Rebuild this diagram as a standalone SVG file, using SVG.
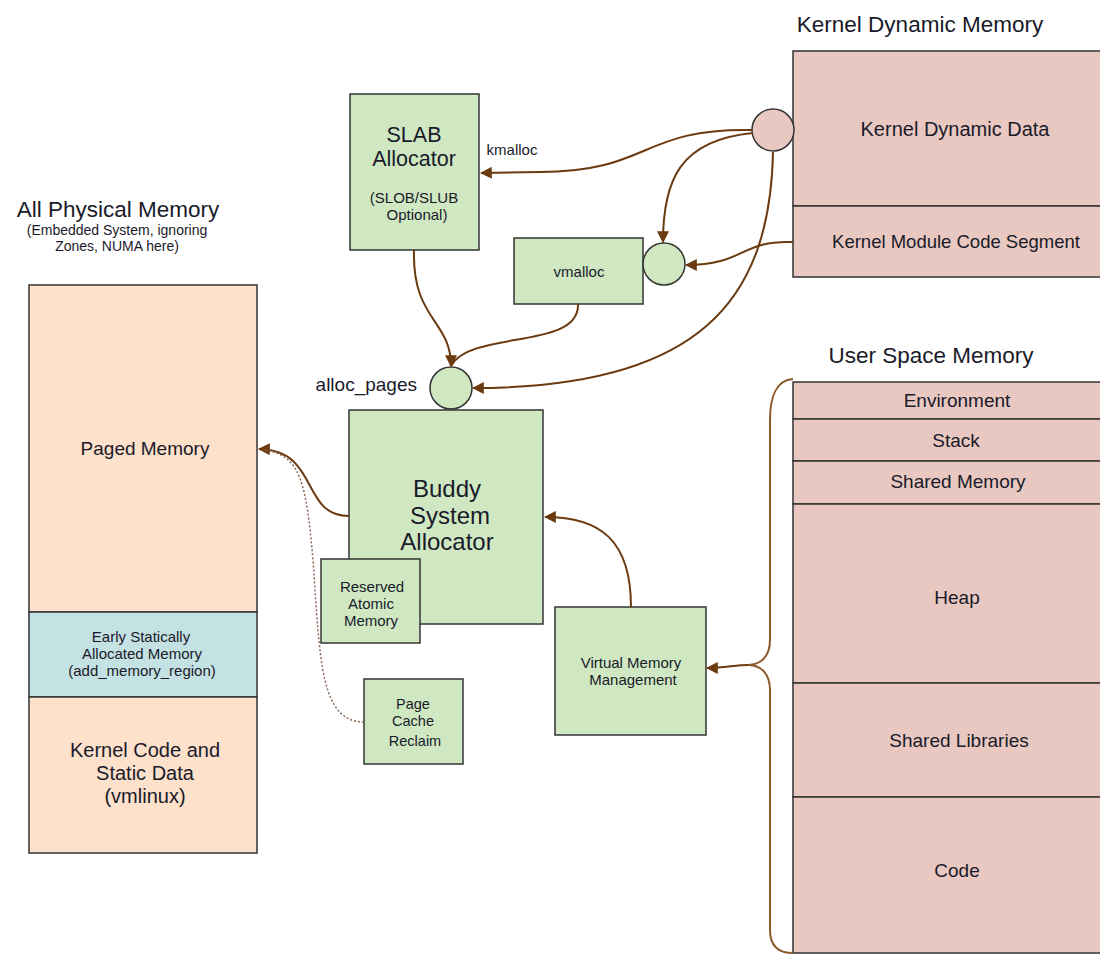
<svg xmlns="http://www.w3.org/2000/svg" width="1100" height="955" viewBox="0 0 1100 955">
<style>
text{font-family:"Liberation Sans",Arial,sans-serif;fill:#1a1a2a;text-anchor:middle}
.box{stroke:#333;stroke-width:1.5}
.g{fill:#cfe8c2}
.p{fill:#e8c8c0}
.pe{fill:#fde1cb}
.bl{fill:#c4e2e3}
.c{fill:none;stroke:#6b3a10;stroke-width:2}
.t22{font-size:22.5px}
.t19{font-size:19px}
.t15{font-size:15px}
.t14{font-size:14.5px}
</style>
<defs>
<marker id="ah" viewBox="0 0 10 10" refX="9" refY="5" markerWidth="12" markerHeight="12" markerUnits="userSpaceOnUse" orient="auto">
<path d="M0,0 L10,5 L0,10 z" fill="#6b3a10"/>
</marker>
</defs>
<rect width="1100" height="955" fill="#fff"/>

<g id="physical">
<text x="118" y="217" class="t22">All Physical Memory</text>
<text x="117" y="235" style="font-size:14px">(Embedded System, ignoring</text>
<text x="117" y="251" style="font-size:14px">Zones, NUMA here)</text>
<rect x="29" y="285" width="228" height="327" class="box pe"/>
<text x="145" y="455" class="t19">Paged Memory</text>
<rect x="29" y="612" width="228" height="85" class="box bl"/>
<text x="141" y="642" class="t15">Early Statically</text>
<text x="142" y="659" class="t15">Allocated Memory</text>
<text x="142" y="676" class="t15">(add_memory_region)</text>
<rect x="29" y="697" width="228" height="156" class="box pe"/>
<text x="145" y="757" style="font-size:20px">Kernel Code and</text>
<text x="145" y="780" style="font-size:20px">Static Data</text>
<text x="145" y="803" style="font-size:20px">(vmlinux)</text>
</g>

<g id="kernel-dynamic">
<text x="920" y="32" class="t22">Kernel Dynamic Memory</text>
<rect x="793" y="51" width="310" height="155" class="box p"/>
<text x="955" y="136" style="font-size:20px">Kernel Dynamic Data</text>
<rect x="793" y="206" width="310" height="71" class="box p"/>
<text x="956" y="248" style="font-size:18.5px">Kernel Module Code Segment</text>
</g>

<g id="user-space">
<text x="931" y="363" class="t22">User Space Memory</text>
<rect x="793" y="382" width="310" height="37" class="box p"/>
<text x="957" y="407" class="t19">Environment</text>
<rect x="793" y="419" width="310" height="42" class="box p"/>
<text x="956" y="447" class="t19">Stack</text>
<rect x="793" y="461" width="310" height="43" class="box p"/>
<text x="958" y="488" class="t19">Shared Memory</text>
<rect x="793" y="504" width="310" height="179" class="box p"/>
<text x="957" y="604" class="t19">Heap</text>
<rect x="793" y="683" width="310" height="114" class="box p"/>
<text x="959" y="747" class="t19">Shared Libraries</text>
<rect x="793" y="797" width="310" height="156" class="box p"/>
<text x="957" y="877" class="t19">Code</text>
</g>

<g id="slab">
<rect x="350" y="94" width="129" height="156" class="box g"/>
<text x="414" y="142" style="font-size:21.5px">SLAB</text>
<text x="414" y="166" style="font-size:21.5px">Allocator</text>
<text x="414" y="203" class="t15">(SLOB/SLUB</text>
<text x="417" y="220" class="t15">Optional)</text>
</g>
<text x="512" y="155" class="t15">kmalloc</text>

<g id="vmalloc">
<rect x="514" y="238" width="129" height="66" class="box g"/>
<text x="579" y="277" class="t15">vmalloc</text>
</g>

<g id="vmalloc-port"><circle cx="664" cy="264" r="21" class="box g"/></g>
<g id="kmalloc-port"><circle cx="773" cy="130" r="21" class="box p"/></g>

<g id="buddy">
<rect x="349" y="410" width="194" height="214" class="box g"/>
<text x="447" y="497" style="font-size:24px">Buddy</text>
<text x="450" y="524" style="font-size:24px">System</text>
<text x="447" y="550" style="font-size:24px">Allocator</text>
</g>

<g id="alloc-pages">
<circle cx="451" cy="388" r="21" class="box g"/>
<text x="417" y="391" style="font-size:19px;text-anchor:end">alloc_pages</text>
</g>

<g id="reserved">
<rect x="321" y="559" width="99" height="84" class="box g"/>
<text x="372" y="592" class="t15">Reserved</text>
<text x="371" y="609" class="t15">Atomic</text>
<text x="371" y="626" class="t15">Memory</text>
</g>

<g id="page-cache">
<rect x="364" y="679" width="99" height="85" class="box g"/>
<text x="413" y="709" class="t14">Page</text>
<text x="413" y="726" class="t14">Cache</text>
<text x="415" y="746" class="t14">Reclaim</text>
</g>

<g id="vmm">
<rect x="555" y="607" width="151" height="128" class="box g"/>
<text x="631" y="668" class="t15">Virtual Memory</text>
<text x="633" y="685" class="t15">Management</text>
</g>

<g id="connectors">
<path class="c" d="M752,130 C 640,128 650,172 540,172 L481,173" marker-end="url(#ah)"/>
<path class="c" d="M753,133 C 680,140 663,180 663,242" marker-end="url(#ah)"/>
<path class="c" d="M793,242 C 740,240 745,265 686,265" marker-end="url(#ah)"/>
<path class="c" d="M773,152 C 770,300 700,388 473,388" marker-end="url(#ah)"/>
<path class="c" d="M414,250 C 412,320 451,320 451,366" marker-end="url(#ah)"/>
<path class="c" d="M578,304 C 580,350 470,330 451,366"/>
<path class="c" d="M349,516 C 300,516 320,450 259,449" marker-end="url(#ah)"/>
<path d="M364,722 C 320,722 320,660 313,560 C 306,480 300,455 264,450" fill="none" stroke="#8a6a5a" stroke-width="1.5" stroke-dasharray="2,2"/>
<path class="c" d="M631,607 C 631,540 600,517 545,517" marker-end="url(#ah)"/>
<path d="M793,379 C 776,380 770,398 770,420 L770,640 C 770,655 762,665 748,665 C 762,665 770,675 770,690 L770,930 C 770,945 778,953 793,953" fill="none" stroke="#8b5a2b" stroke-width="2"/>
<path class="c" d="M748,665 C 735,665 725,668 707,668" marker-end="url(#ah)"/>
</g>
</svg>
